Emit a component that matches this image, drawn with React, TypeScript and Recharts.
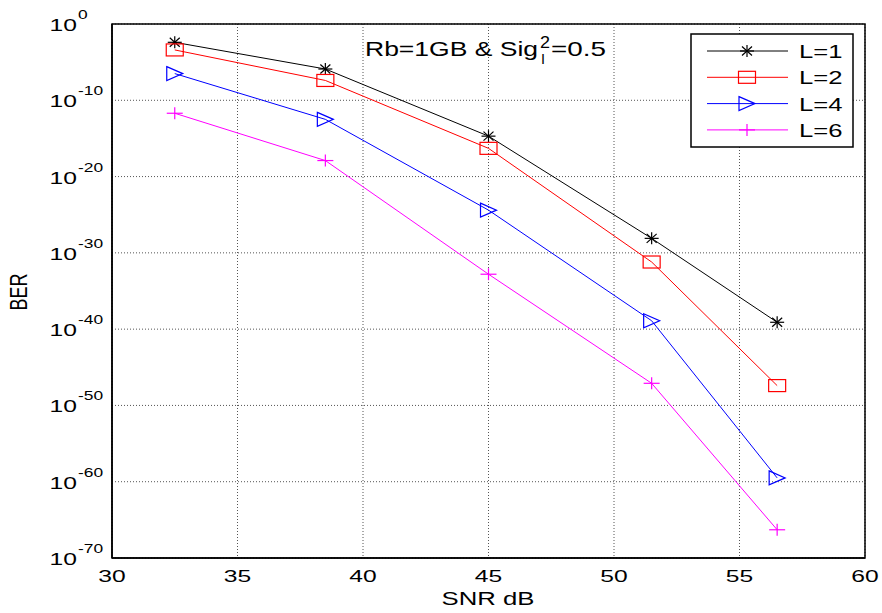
import { LineChart, Line, XAxis, YAxis, CartesianGrid, ReferenceArea, Customized } from 'recharts'

// SNR (dB) of the measured points
const snr = [32.5, 38.5, 45, 51.5, 56.5]
// log10(BER), one array per L
const berL1 = [-2.4, -5.9, -14.7, -28.1, -39.1]
const berL2 = [-3.4, -7.4, -16.3, -31.2, -47.4]
const berL4 = [-6.5, -12.5, -24.4, -38.9, -59.5]
const berL6 = [-11.7, -17.9, -32.8, -47.1, -66.3]

const xTicks = [30, 35, 40, 45, 50, 55, 60]
const yTicks = [0, -10, -20, -30, -40, -50, -60, -70]
const seriesNames = ['L=1', 'L=2', 'L=4', 'L=6']

const rows = snr.map((s, i) => ({ snr: s, l1: berL1[i], l2: berL2[i], l4: berL4[i], l6: berL6[i] }))

const series = [
  { key: 'l1', name: seriesNames[0], color: '#000000', kind: 'star' },
  { key: 'l2', name: seriesNames[1], color: '#ff0000', kind: 'square' },
  { key: 'l4', name: seriesNames[2], color: '#0000ff', kind: 'tri' },
  { key: 'l6', name: seriesNames[3], color: '#ff00ff', kind: 'plus' },
]

const FONT = '"Liberation Sans", Arial, sans-serif'

// matlab export is stretched sideways, so squash text the same way
function SText({ x, y, size, anchor = 'start', sx = 1.45, children }: any) {
  return (
    <text transform={`translate(${x},${y}) scale(${sx},1)`} fontSize={size} textAnchor={anchor} fill="#000" fontFamily={FONT}>
      {children}
    </text>
  )
}

// fixed-width text, for the title pieces
function FText({ x, y, size, len, children }: any) {
  return (
    <text x={x} y={y} fontSize={size} textLength={len} lengthAdjust="spacingAndGlyphs" fill="#000" fontFamily={FONT}>
      {children}
    </text>
  )
}

function Marker({ kind, cx, cy, color }: any) {
  if (cx == null || cy == null) return null
  const p = { stroke: color, strokeWidth: 1.2, fill: 'none' }
  if (kind === 'star') {
    return (
      <g {...p}>
        <line x1={cx - 7} y1={cy} x2={cx + 7} y2={cy} />
        <line x1={cx} y1={cy - 6} x2={cx} y2={cy + 6} />
        <line x1={cx - 5} y1={cy - 4.5} x2={cx + 5} y2={cy + 4.5} />
        <line x1={cx - 5} y1={cy + 4.5} x2={cx + 5} y2={cy - 4.5} />
      </g>
    )
  }
  if (kind === 'square') return <rect x={cx - 8.5} y={cy - 6} width={17} height={12} {...p} />
  if (kind === 'tri') return <polygon points={`${cx - 8},${cy - 7} ${cx + 8},${cy} ${cx - 8},${cy + 7}`} {...p} />
  return (
    <g {...p}>
      <line x1={cx - 8} y1={cy} x2={cx + 8} y2={cy} />
      <line x1={cx} y1={cy - 6} x2={cx} y2={cy + 6} />
    </g>
  )
}

function YTick({ x, y, payload }: any) {
  return (
    <g>
      <SText x={x - 35} y={y + 7} size={17} anchor="end">10</SText>
      <SText x={x - 34} y={y - 5} size={12}>{payload.value}</SText>
    </g>
  )
}

function XTick({ x, y, payload }: any) {
  return <SText x={x} y={y + 24} size={17} anchor="middle">{payload.value}</SText>
}

function Extras() {
  const lx = 691, ly = 34
  return (
    <g>
      <FText x={365} y={56} size={21} len={173}>Rb=1GB &amp; Sig</FText>
      <FText x={541} y={64} size={15} len={4}>I</FText>
      <FText x={540} y={48} size={16} len={10}>2</FText>
      <FText x={551} y={56} size={21} len={55}>=0.5</FText>

      <SText x={488} y={605} size={18} anchor="middle" sx={1.43}>SNR dB</SText>
      <text transform="translate(27,292) rotate(-90) scale(1,1.35)" fontSize={18} textAnchor="middle" fontFamily={FONT} fill="#000">BER</text>

      <rect x={lx} y={ly} width={162} height={113} fill="#fff" stroke="#000" strokeWidth={1.5} />
      {series.map((s, i) => {
        const cy = 51 + i * 26.3
        return (
          <g key={s.key}>
            <line x1={707} y1={cy} x2={788} y2={cy} stroke={s.color} strokeWidth={1} />
            <Marker kind={s.kind} cx={747} cy={cy} color={s.color} />
            <SText x={799} y={cy + 7} size={19} sx={1.35}>{s.name}</SText>
          </g>
        )
      })}
    </g>
  )
}

export default function App() {
  return (
    <div style={{ position: 'absolute', left: 0, top: 0, width: 882, height: 613, background: '#fff', fontFamily: FONT }}>
      <LineChart width={882} height={613} data={rows} margin={{ top: 24, right: 17, bottom: 15, left: 32 }}>
        <CartesianGrid stroke="#555" strokeDasharray="1 2" />
        <XAxis
          dataKey="snr"
          type="number"
          domain={[30, 60]}
          ticks={xTicks}
          height={40}
          tickLine={false}
          tickSize={0}
          tickMargin={0}
          axisLine={{ stroke: '#000', strokeWidth: 1.5 }}
          tick={<XTick />}
          allowDataOverflow
        />
        <YAxis
          type="number"
          domain={[-70, 0]}
          ticks={yTicks}
          width={80}
          tickLine={false}
          tickSize={0}
          tickMargin={0}
          axisLine={{ stroke: '#000', strokeWidth: 1.5 }}
          tick={<YTick />}
          allowDataOverflow
        />
        <ReferenceArea x1={30} x2={60} y1={-70} y2={0} fill="none" stroke="#000" strokeWidth={1.5} ifOverflow="visible" />
        {series.map(s => (
          <Line
            key={s.key}
            dataKey={s.key}
            name={s.name}
            stroke={s.color}
            strokeWidth={1}
            isAnimationActive={false}
            dot={(props: any) => <Marker key={`${s.key}-${props.index}`} kind={s.kind} cx={props.cx} cy={props.cy} color={s.color} />}
            activeDot={false}
          />
        ))}
        <Customized component={Extras} />
      </LineChart>
    </div>
  )
}
